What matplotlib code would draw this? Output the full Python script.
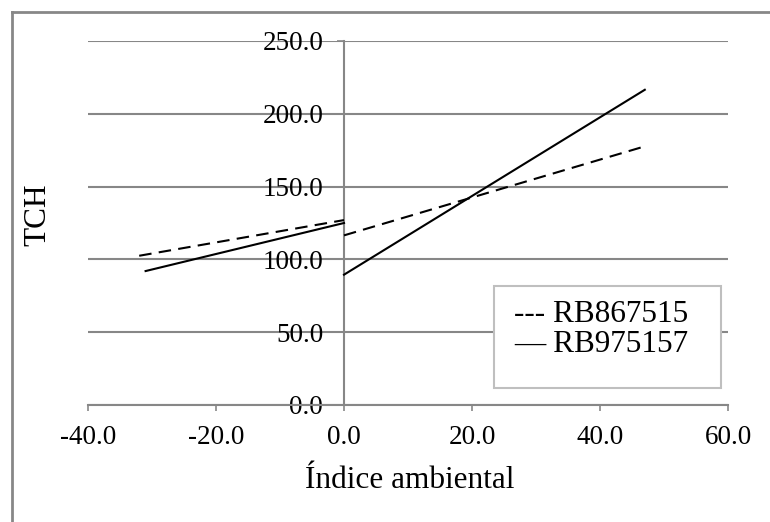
import matplotlib
matplotlib.use('Agg')
import matplotlib.pyplot as plt
from matplotlib.patches import Rectangle
from matplotlib.lines import Line2D

# bi-segmented fits, one pair of points per segment (x = environmental index)
rb867515_low_x = [-32.0, 0.0]
rb867515_low_y = [102.5, 127.0]
rb867515_high_x = [0.0, 46.5]
rb867515_high_y = [116.5, 177.0]

rb975157_low_x = [-31.0, 0.0]
rb975157_low_y = [92.0, 125.0]
rb975157_high_x = [0.0, 47.0]
rb975157_high_y = [89.5, 216.5]

x_ticks = [-40, -20, 0, 20, 40, 60]
y_ticks = [0, 50, 100, 150, 200, 250]
series_names = ['RB867515', 'RB975157']

GRAY = '#878787'

plt.rcParams['font.family'] = ['Liberation Serif', 'DejaVu Serif']

fig = plt.figure(figsize=(7.7, 5.22), dpi=100)
ax = fig.add_axes([88 / 770, 117 / 522, 640 / 770, 364 / 522])

ax.plot(rb867515_low_x, rb867515_low_y, c='black', lw=1.5, ls=(0, (6, 3.5)), zorder=3)
ax.plot(rb867515_high_x, rb867515_high_y, c='black', lw=1.5, ls=(0, (6, 3.5)), zorder=3)
ax.plot(rb975157_low_x, rb975157_low_y, c='black', lw=1.5, zorder=3)
ax.plot(rb975157_high_x, rb975157_high_y, c='black', lw=1.5, zorder=3)

ax.set_xlim(-40, 60)
ax.set_ylim(0, 250)
ax.set_xticks(x_ticks)
ax.set_yticks(y_ticks)
ax.set_xticklabels([f'{v:.1f}' for v in x_ticks])
ax.set_yticklabels([f'{v:.1f}' for v in y_ticks])

# y axis crosses at x = 0
ax.spines['left'].set_position(('data', 0))
ax.spines['top'].set_visible(False)
ax.spines['right'].set_visible(False)
for s in ['left', 'bottom']:
    ax.spines[s].set_color(GRAY)
    ax.spines[s].set_linewidth(1.5)

ax.yaxis.grid(True, color=GRAY, lw=1.5)
ax.set_axisbelow(True)
ax.tick_params(axis='both', colors=GRAY, width=1.2, labelsize=19.5, labelcolor='black')
ax.tick_params(axis='y', length=5, pad=10)
ax.tick_params(axis='x', length=4.5, pad=10)

fig.text(410 / 770, 1 - 481 / 522, 'Índice ambiental', fontsize=22.5,
         ha='center', va='center')
fig.text(38 / 770, 1 - 215 / 522, 'TCH', fontsize=22.5, rotation=90,
         ha='center', va='center')

# text-style legend box
box = Rectangle((494 / 770, 1 - 388 / 522), 227 / 770, 102 / 522,
                transform=fig.transFigure, facecolor='white',
                edgecolor='#BFBFBF', lw=1.5, zorder=5)
fig.patches.append(box)
fig.text(514 / 770, 1 - 315 / 522, '--- ' + series_names[0], fontsize=22.5,
         va='center', zorder=6)
fig.text(514 / 770, 1 - 344 / 522, '\u2014 ' + series_names[1], fontsize=22.5,
         va='center', zorder=6)

# outer chart frame (only top and left edges show)
fig.add_artist(Line2D([12 / 770, 1], [1 - 12 / 522, 1 - 12 / 522],
                      transform=fig.transFigure, color=GRAY, lw=2))
fig.add_artist(Line2D([12 / 770, 12 / 770], [0, 1 - 12 / 522],
                      transform=fig.transFigure, color=GRAY, lw=2))

fig.savefig('out.png', dpi=100)
